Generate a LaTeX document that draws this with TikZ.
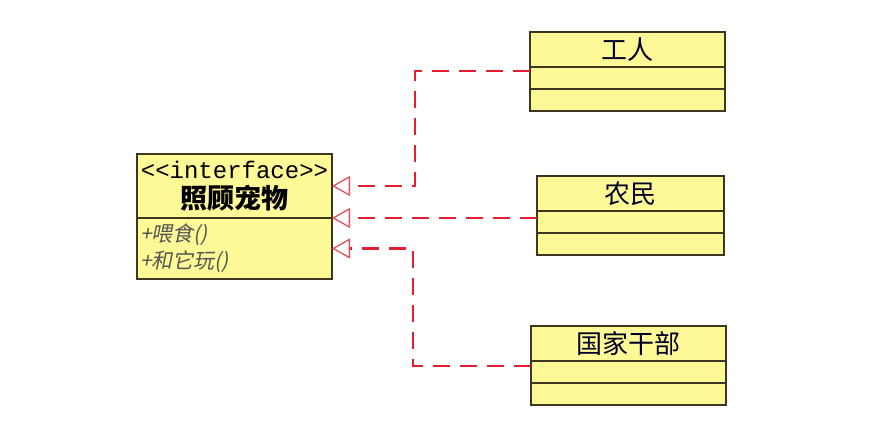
\documentclass[tikz,border=0pt]{standalone}
\usepackage{fontspec}
\usepackage{tikz}
\usetikzlibrary{arrows.meta,positioning}
\setmainfont{Noto Sans CJK SC}
\newfontfamily\cjkslant{Noto Sans CJK SC}[FakeSlant=0.2]
\newfontfamily\stereofont{Liberation Mono}
\definecolor{umlyellow}{RGB}{252,249,150}
\definecolor{umlborder}{RGB}{60,55,30}
\definecolor{linkred}{RGB}{230,30,50}
\definecolor{tipred}{RGB}{225,80,90}
\definecolor{methodgray}{RGB}{85,85,85}

\begin{document}
\begin{tikzpicture}[x=1pt, y=-1pt,
  part/.style={draw=umlborder, fill=umlyellow, line width=1.5pt, minimum width=195pt, inner sep=0pt, outer sep=0pt},
  classname/.style={part, minimum height=35pt, font=\fontsize{26}{28}\selectfont, text=black!85!blue},
  slot/.style={part, minimum height=22pt},
  realize/.style={draw=linkred, line width=2.4pt, dash pattern=on 17pt off 10pt,
    -{Triangle[open, length=18pt, width=20pt, line width=1.3pt, color=tipred]}}
]
  \useasboundingbox (0,0) rectangle (885,441);

  % interface
  \node[part, minimum height=64pt, anchor=north west, align=center] (ifhead) at (137,154)
    {{\stereofont\fontsize{24}{24}\selectfont <<interface>>}\\[5pt]{\fontsize{27}{27}\selectfont\bfseries 照顾宠物}};
  \node[part, minimum height=61pt, below=0pt of ifhead, text width=189pt, align=left,
    font=\cjkslant\fontsize{21}{27}\selectfont, text=methodgray] (ifbody) {+喂食()\\+和它玩()};

  % implementing classes
  \node[classname, anchor=north west] (worker) at (530,32) {工人};
  \node[slot, below=0pt of worker] (workerattr) {};
  \node[slot, below=0pt of workerattr] (workerops) {};

  \node[classname, minimum width=187pt, anchor=north west] (farmer) at (537,176) {农民};
  \node[slot, minimum width=187pt, below=0pt of farmer] (farmerattr) {};
  \node[slot, minimum width=187pt, below=0pt of farmerattr] (farmerops) {};

  \node[classname, anchor=north west] (cadre) at (531,326) {国家干部};
  \node[slot, below=0pt of cadre] (cadreattr) {};
  \node[slot, below=0pt of cadreattr] (cadreops) {};

  % realizations
  \coordinate (trunkup) at (415,120);
  \coordinate (trunkdown) at (413,300);
  \draw[realize] ([yshift=-4pt]worker.south west) -| (trunkup) |- (ifhead.east);
  \draw[realize] ([yshift=-7pt]farmer.south west) -- (ifhead.south east);
  \draw[realize] ([yshift=-5pt]cadre.south west) -| (trunkdown) |- (ifbody.east);
\end{tikzpicture}
\end{document}
